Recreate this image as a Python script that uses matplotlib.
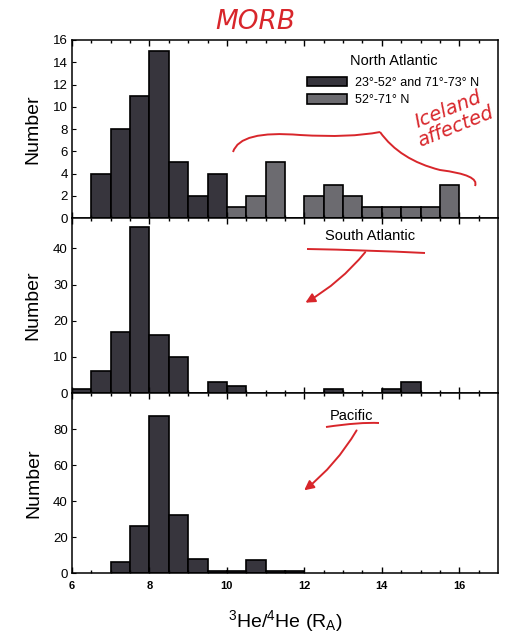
import numpy as np
import matplotlib.pyplot as plt
from matplotlib.path import Path
from matplotlib.patches import PathPatch, FancyArrowPatch

# bin left edges (width 0.5) and counts
na_edges_black = [6.5, 7.0, 7.5, 8.0, 8.5, 9.0, 9.5]
na_black = [4, 8, 11, 15, 5, 2, 4]
na_edges_grey = [10.0, 10.5, 11.0, 11.5, 12.0, 12.5, 13.0, 13.5, 14.0, 14.5, 15.0, 15.5]
na_grey = [1, 2, 5, 0, 2, 3, 2, 1, 1, 1, 1, 3]

sa_edges = [6.0, 6.5, 7.0, 7.5, 8.0, 8.5, 9.0, 9.5, 10.0, 12.5, 14.0, 14.5]
sa_counts = [1, 6, 17, 46, 16, 10, 0, 3, 2, 1, 1, 3]

pac_edges = [7.0, 7.5, 8.0, 8.5, 9.0, 9.5, 10.0, 10.5, 11.0, 11.5]
pac_counts = [6, 26, 87, 32, 8, 1, 1, 7, 1, 1]

bin_w = 0.5
black_col = '#37353d'
grey_col = '#6c6b70'

plt.rcParams['font.family'] = ['Liberation Sans', 'DejaVu Sans']
plt.rcParams['mathtext.fontset'] = 'custom'
plt.rcParams['mathtext.rm'] = 'Liberation Sans'
plt.rcParams['mathtext.it'] = 'Liberation Sans:italic'

fig = plt.figure(figsize=(5.15, 6.34), dpi=100)
W, H = 515.0, 634.0

def px_axes(left, top, right, bottom):
    return fig.add_axes([left / W, 1 - bottom / H, (right - left) / W, (bottom - top) / H])

ax1 = px_axes(72, 40, 498, 218)
ax2 = px_axes(72, 218, 498, 393)
ax3 = px_axes(72, 393, 498, 573)

ax1.bar(na_edges_black, na_black, width=bin_w, align='edge', color=black_col,
        edgecolor='black', linewidth=1.2, label='23°-52° and 71°-73° N')
ax1.bar(na_edges_grey, na_grey, width=bin_w, align='edge', color=grey_col,
        edgecolor='black', linewidth=1.2, label='52°-71° N')
ax2.bar(sa_edges, sa_counts, width=bin_w, align='edge', color=black_col,
        edgecolor='black', linewidth=1.2)
ax3.bar(pac_edges, pac_counts, width=bin_w, align='edge', color=black_col,
        edgecolor='black', linewidth=1.2)

ax1.set_ylim(0, 16)
ax1.set_yticks(range(0, 17, 2))
ax2.set_ylim(0, 48.4)
ax2.set_yticks(range(0, 41, 10))
ax3.set_ylim(0, 100)
ax3.set_yticks(range(0, 81, 20))

for ax in (ax1, ax2, ax3):
    ax.set_xlim(6, 17)
    ax.set_xticks(range(6, 17, 2))
    ax.set_xticks(np.arange(6, 17, 0.5), minor=True)
    ax.tick_params(axis='both', which='both', direction='in', top=True, right=False)
    ax.tick_params(axis='x', which='major', length=4, width=1)
    ax.tick_params(axis='x', which='minor', length=2.5, width=1)
    ax.tick_params(axis='y', length=3, labelsize=9.5, pad=3)
    for s in ax.spines.values():
        s.set_linewidth(1.1)
    ax.set_ylabel('Number', fontsize=14, labelpad=8)
    if ax is not ax3:
        ax.tick_params(axis='x', labelbottom=False)

ax3.tick_params(axis='x', labelsize=8, pad=6)
for t in ax3.get_xticklabels():
    t.set_fontweight('bold')
ax3.set_xlabel(r'$^{\mathregular{3}}$He/$^{\mathregular{4}}$He (R$_{\mathregular{A}}$)',
               fontsize=14, labelpad=12)

ax1.text(0.755, 0.88, 'North Atlantic', transform=ax1.transAxes, fontsize=10.5,
         ha='center', va='center')
ax1.legend(loc='upper right', bbox_to_anchor=(0.97, 0.83), frameon=False, fontsize=9,
           handlelength=3.2, handleheight=0.8, labelspacing=0.45, handletextpad=0.6,
           borderpad=0)
ax2.text(0.70, 0.90, 'South Atlantic', transform=ax2.transAxes, fontsize=10.5,
         ha='center', va='center')
ax3.text(0.655, 0.87, 'Pacific', transform=ax3.transAxes, fontsize=10.5,
         ha='center', va='center')

# red handwritten notes (figure pixel coords)
red = '#d8262b'

def fpx(x, y):
    return (x / W, 1 - y / H)

def red_curve(pts, lw=1.4):
    verts = [fpx(x, y) for x, y in pts]
    codes = [Path.MOVETO] + [Path.CURVE3] * (len(verts) - 1)
    fig.patches.append(PathPatch(Path(verts, codes), fill=False, edgecolor=red, lw=lw,
                                 transform=fig.transFigure))

fig.text(*fpx(255, 22), 'MORB', color=red, fontsize=19, ha='center', va='center',
         family='DejaVu Sans', style='italic')
fig.text(*fpx(452, 118), 'Iceland\naffected', color=red, fontsize=14, ha='center',
         va='center', rotation=22, family='DejaVu Sans', style='italic', linespacing=1.0)
red_curve([(233, 152), (240, 130), (300, 135), (350, 138), (380, 132)])
red_curve([(380, 132), (400, 160), (440, 170), (480, 175), (475, 186)])

red_curve([(307, 249), (366, 250), (425, 253)])
red_curve([(326, 427), (360, 422), (379, 423)])
for (x0, y0), (x1, y1) in [((367, 250), (303, 304)), ((358, 428), (302, 492))]:
    fig.patches.append(FancyArrowPatch(
        fpx(x0, y0), fpx(x1, y1), transform=fig.transFigure, color=red, lw=1.4,
        arrowstyle='-|>', mutation_scale=14, connectionstyle='arc3,rad=-0.1'))

fig.savefig('out.png', dpi=100)
